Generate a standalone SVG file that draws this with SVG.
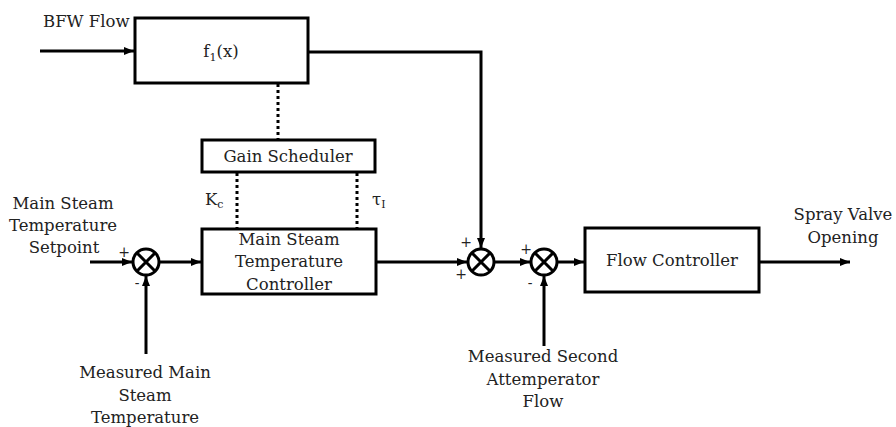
<svg xmlns="http://www.w3.org/2000/svg" width="896" height="427" viewBox="0 0 896 427">
<defs>
<style>
.box{fill:#fff;stroke:#000;stroke-width:3}
.ln{fill:none;stroke:#000;stroke-width:3}
.dot{fill:none;stroke:#000;stroke-width:3;stroke-dasharray:3 3}
.sum{fill:#fff;stroke:#000;stroke-width:3}
.t{font-family:"DejaVu Serif",serif;font-size:16.5px;fill:#222}
.m{text-anchor:middle}
.s{font-family:"DejaVu Serif",serif;font-size:14px;fill:#222;text-anchor:middle}
</style>
<marker id="ah" viewBox="0 0 10 8" refX="10" refY="4" markerWidth="10" markerHeight="8" markerUnits="userSpaceOnUse" orient="auto">
<path d="M0,0 L10,4 L0,8 Z" fill="#000"/>
</marker>
</defs>
<rect width="896" height="427" fill="#fff"/>
<g id="connectors">
<line class="ln" x1="40" y1="51" x2="134" y2="51" marker-end="url(#ah)"/>
<polyline class="ln" points="308,52 481,52 481,248" marker-end="url(#ah)"/>
<line class="ln" x1="90" y1="262" x2="132" y2="262" marker-end="url(#ah)"/>
<line class="ln" x1="159" y1="262" x2="201" y2="262" marker-end="url(#ah)"/>
<line class="ln" x1="146" y1="354" x2="146" y2="276" marker-end="url(#ah)"/>
<line class="ln" x1="376" y1="262" x2="467" y2="262" marker-end="url(#ah)"/>
<line class="ln" x1="494" y1="262" x2="530" y2="262" marker-end="url(#ah)"/>
<line class="ln" x1="557" y1="262" x2="584" y2="262" marker-end="url(#ah)"/>
<line class="ln" x1="759" y1="262" x2="850" y2="262" marker-end="url(#ah)"/>
<line class="ln" x1="544" y1="346" x2="544" y2="276" marker-end="url(#ah)"/>
<line class="dot" x1="278" y1="84" x2="278" y2="139"/>
<line class="dot" x1="237" y1="173" x2="237" y2="228"/>
<line class="dot" x1="357" y1="173" x2="357" y2="228"/>
</g>
<g id="bfw-label"><text class="t" x="43" y="27">BFW Flow</text></g>
<g id="f1">
<rect class="box" x="135" y="18" width="173" height="65"/>
<text class="t m" x="221" y="57">f<tspan font-size="11" dy="4">1</tspan><tspan dy="-4">(x)</tspan></text>
</g>
<g id="gain-scheduler">
<rect class="box" x="202" y="140" width="173" height="32"/>
<text class="t m" x="288" y="162">Gain Scheduler</text>
</g>
<g id="params">
<text class="t" x="205" y="205">K<tspan font-size="11" dy="3">c</tspan></text>
<text class="t" x="372" y="205">τ<tspan font-size="11" dy="3">I</tspan></text>
</g>
<g id="mst-controller">
<rect class="box" x="202" y="229" width="174" height="65"/>
<text class="t m" x="289" y="245">Main Steam</text>
<text class="t m" x="289" y="267">Temperature</text>
<text class="t m" x="289" y="290">Controller</text>
</g>
<g id="setpoint-label">
<text class="t m" x="63" y="209">Main Steam</text>
<text class="t m" x="63" y="231">Temperature</text>
<text class="t m" x="64" y="253">Setpoint</text>
</g>
<g id="sum1">
<circle class="sum" cx="146" cy="262" r="13"/>
<path class="ln" d="M136.8,252.8 L155.2,271.2 M155.2,252.8 L136.8,271.2"/>
<text class="s" x="124" y="257">+</text>
<text class="s" x="137" y="288">-</text>
</g>
<g id="measured-temp-label">
<text class="t m" x="145" y="378">Measured Main</text>
<text class="t m" x="145" y="401">Steam</text>
<text class="t m" x="145" y="423">Temperature</text>
</g>
<g id="sum2">
<circle class="sum" cx="481" cy="262" r="13"/>
<path class="ln" d="M471.8,252.8 L490.2,271.2 M490.2,252.8 L471.8,271.2"/>
<text class="s" x="466" y="247">+</text>
<text class="s" x="461" y="279">+</text>
</g>
<g id="sum3">
<circle class="sum" cx="544" cy="262" r="13"/>
<path class="ln" d="M534.8,252.8 L553.2,271.2 M553.2,252.8 L534.8,271.2"/>
<text class="s" x="526" y="254">+</text>
<text class="s" x="530" y="288">-</text>
</g>
<g id="flow-controller">
<rect class="box" x="585" y="228" width="174" height="64"/>
<text class="t m" x="672" y="266">Flow Controller</text>
</g>
<g id="measured-flow-label">
<text class="t m" x="543" y="362">Measured Second</text>
<text class="t m" x="543" y="385">Attemperator</text>
<text class="t m" x="543" y="407">Flow</text>
</g>
<g id="output-label">
<text class="t m" x="843" y="220">Spray Valve</text>
<text class="t m" x="843" y="243">Opening</text>
</g>
</svg>
